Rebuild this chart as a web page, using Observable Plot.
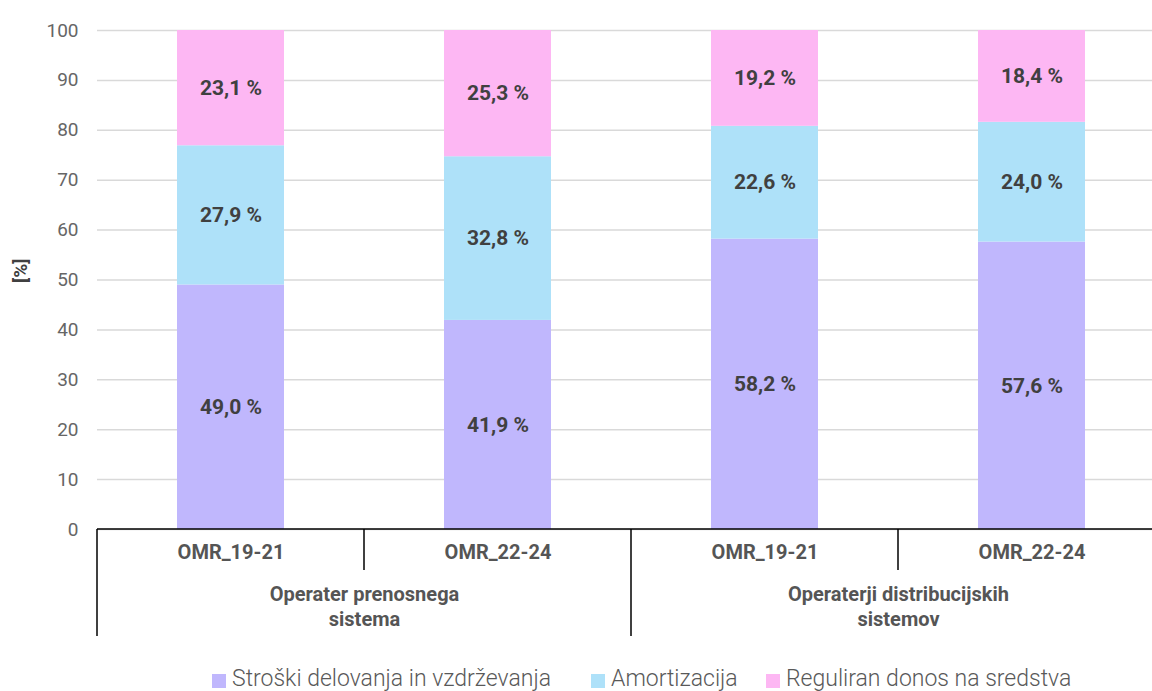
<!DOCTYPE html>
<html>
<head>
<meta charset="utf-8">
<script src="https://cdn.jsdelivr.net/npm/d3@7"></script>
<script src="https://cdn.jsdelivr.net/npm/@observablehq/plot@0.6"></script>
<style>
  html, body { margin: 0; padding: 0; background: #fff; overflow: hidden; }
  #chart svg { overflow: hidden; display: block; }
  #legend { font-family: Roboto, "Noto Sans", sans-serif; font-weight: 300; font-size: 23px; color: #595959; height: 41px; position: relative; }
  .item { position: absolute; top: 15px; display: flex; align-items: center; white-space: nowrap; }
  .sw { width: 14px; height: 14px; margin-right: 6px; margin-top: 5px; }
</style>
</head>
<body>
<div id="chart"></div>
<div id="legend"></div>
<script>
const groups = ["Operater prenosnega\nsistema", "Operaterji distribucijskih\nsistemov"];
const periods = ["OMR_19-21", "OMR_22-24"];
const series = ["Stroški delovanja in vzdrževanja", "Amortizacija", "Reguliran donos na sredstva"];
const colors = ["#c0b7fd", "#aee1f9", "#fdb7f3"];
// values per bar, in order: [group][period] -> [stroski, amortizacija, donos]
const stroski =      [49.0, 41.9, 58.2, 57.6];
const amortizacija = [27.9, 32.8, 22.6, 24.0];
const donos =        [23.1, 25.3, 19.2, 18.4];
const yTicks = [0, 10, 20, 30, 40, 50, 60, 70, 80, 90, 100];

const bars = [];
groups.forEach((g, gi) => periods.forEach((p, pi) => bars.push({group: g, period: p, key: gi + "|" + p})));
const keys = bars.map(b => b.key);
const seriesVals = [stroski, amortizacija, donos];
const data = [];
bars.forEach((b, i) => series.forEach((s, si) => data.push({key: b.key, series: s, value: seriesVals[si][i]})));
const fmt = v => d3.format(".1f")(v).replace(".", ",") + " %";
const groupFirst = groups.map((g, gi) => ({label: g, key: gi + "|" + periods[0]}));

const font = "Roboto, 'Noto Sans', sans-serif";

const axisLines = (index, scales, values, dims) => {
  const x = scales.x;
  const step = x(keys[1]) - x(keys[0]);
  const bw = x.bandwidth ? x.bandwidth() : 0;
  const bottom = dims.height - dims.marginBottom;
  const g = d3.create("svg:g").attr("stroke", "#000").attr("stroke-width", 1.5);
  g.append("line").attr("x1", dims.marginLeft).attr("x2", dims.width).attr("y1", bottom).attr("y2", bottom);
  keys.forEach((k, i) => {
    const left = x(k) + bw / 2 - step / 2;
    const long = i % periods.length === 0;
    g.append("line").attr("x1", left).attr("x2", left).attr("y1", bottom).attr("y2", bottom + (long ? 107 : 41));
  });
  return g.node();
};

const chart = Plot.plot({
  width: 1152,
  height: 650,
  marginLeft: 97,
  marginRight: 0,
  marginTop: 30,
  marginBottom: 121,
  style: {fontFamily: font, background: "#fff"},
  x: {type: "band", domain: keys, range: [97, 1165], paddingInner: 0.6, paddingOuter: 0.3, axis: null},
  y: {domain: [0, 100], ticks: yTicks, label: null},
  color: {domain: series, range: colors},
  marks: [
    Plot.gridY(yTicks, {stroke: "#d9d9d9", strokeOpacity: 1, strokeWidth: 1.5}),
    Plot.axisY(yTicks, {tickSize: 0, tickPadding: 19, fontSize: 19, fill: "#666666", label: null}),
    Plot.barY(data, {x: "key", y: "value", fill: "series", order: null}),
    Plot.text(data, Plot.stackY({x: "key", y: "value", z: "series", order: null, text: d => fmt(d.value), fontSize: 21, fontWeight: "bold", fill: "#404040"})),
    axisLines,
    Plot.text(bars, {x: "key", text: "period", frameAnchor: "bottom", lineAnchor: "middle", dy: 23, fontSize: 20, fontWeight: "bold", fill: "#555555"}),
    Plot.text(groupFirst, {x: "key", text: "label", frameAnchor: "bottom", lineAnchor: "top", dx: 133.5, dy: 54, fontSize: 20, fontWeight: "bold", fill: "#555555", lineHeight: 1.25}),
    Plot.text(["[%]"], {frameAnchor: "left", dx: -77, dy: 3, rotate: -90, fontSize: 19, fontWeight: "bold", fill: "#404040"})
  ]
});
document.getElementById("chart").appendChild(chart);

const legend = document.getElementById("legend");
const lefts = [212, 591, 766];
series.forEach((s, i) => {
  const it = document.createElement("div");
  it.className = "item";
  it.style.left = lefts[i] + "px";
  it.innerHTML = `<span class="sw" style="background:${colors[i]}"></span><span>${s}</span>`;
  legend.appendChild(it);
});
</script>
</body>
</html>
